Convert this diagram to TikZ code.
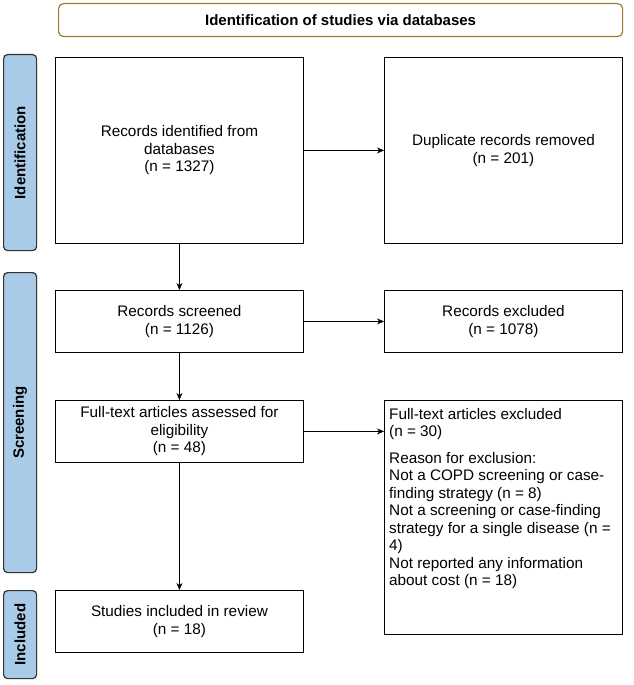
\documentclass[tikz,border=0pt]{standalone}
\usepackage{fontspec}
\setmainfont{Liberation Sans}
\usetikzlibrary{arrows.meta}
\definecolor{phasefill}{HTML}{A9CBE8}
\definecolor{headline}{HTML}{9C7A2E}
\tikzset{
  box/.style={draw,line width=0.9pt,align=center,font=\fontsize{15.3}{17.5}\selectfont,anchor=north west,inner sep=4pt},
  phase/.style={draw=black!80,fill=phasefill,rounded corners=4pt,line width=1.2pt,anchor=north west},
  phasetext/.style={rotate=90,font=\bfseries\fontsize{15}{17}\selectfont},
  flow/.style={-{Stealth[length=7pt,width=6pt]},line width=0.6pt}
}
\begin{document}
\begin{tikzpicture}[x=1pt,y=-1pt]
  \useasboundingbox (0,0) rectangle (633,685);

  % --------------------------------------------------------- %
  % ------------- header and phases
  % --------------------------------------------------------- %
  \node[draw=headline,rounded corners=5pt,line width=1.2pt,anchor=north west,minimum width=564pt,minimum height=33pt,
    font=\bfseries\fontsize{15}{17}\selectfont] (head) at (58,3) {Identification of studies via databases};
  \node[phase,minimum width=33pt,minimum height=196pt] (pident) at (3,54) {};
  \node[phasetext] at (pident.center) {Identification};
  \node[phase,minimum width=33pt,minimum height=300pt] (pscreen) at (3,272) {};
  \node[phasetext] at (pscreen.center) {Screening};
  \node[phase,minimum width=33pt,minimum height=88pt] (pincl) at (3,590) {};
  \node[phasetext] at (pincl.center) {Included};

  % --------------------------------------------------------- %
  % ------------- left column
  % --------------------------------------------------------- %
  \node[box,minimum width=248pt,minimum height=186pt] (ident) at (55,57)
    {Records identified from\\databases\\(n = 1327)};
  \node[box,minimum width=248pt,minimum height=62pt] (screen) at (55,290)
    {Records screened\\(n = 1126)};
  \node[box,minimum width=248pt,minimum height=62pt] (full) at (55,400)
    {Full-text articles assessed for\\eligibility\\(n = 48)};
  \node[box,minimum width=248pt,minimum height=62pt] (incl) at (55,590)
    {Studies included in review\\(n = 18)};

  % --------------------------------------------------------- %
  % ------------- right column
  % --------------------------------------------------------- %
  \node[box,minimum width=238pt,minimum height=186pt] (dup) at (384,57)
    {Duplicate records removed\\(n = 201)};
  \node[box,minimum width=238pt,minimum height=62pt] (excl) at (384,290)
    {Records excluded\\(n = 1078)};
  \node[box,minimum width=238pt,minimum height=234pt] (fullexcl) at (384,400) {};
  \node[anchor=north west,align=left,inner sep=0pt,font=\fontsize{15.3}{17.5}\selectfont] (reasons)
    at ([xshift=5pt,yshift=-8pt]fullexcl.north west)
    {Full-text articles excluded\\(n = 30)\\[9pt]
     Reason for exclusion:\\Not a COPD screening or case-\\finding strategy (n = 8)\\
     Not a screening or case-finding\\strategy for a single disease (n =\\4)\\
     Not reported any information\\about cost (n = 18)};

  % --------------------------------------------------------- %
  % ------------- arrows
  % --------------------------------------------------------- %
  \draw[flow] (ident) -- (dup);
  \draw[flow] (screen) -- (excl);
  \draw[flow] (full.east) -- (fullexcl.west |- full.east);
  \draw[flow] (ident) -- (screen);
  \draw[flow] (screen) -- (full);
  \draw[flow] (full) -- (incl);
\end{tikzpicture}
\end{document}
